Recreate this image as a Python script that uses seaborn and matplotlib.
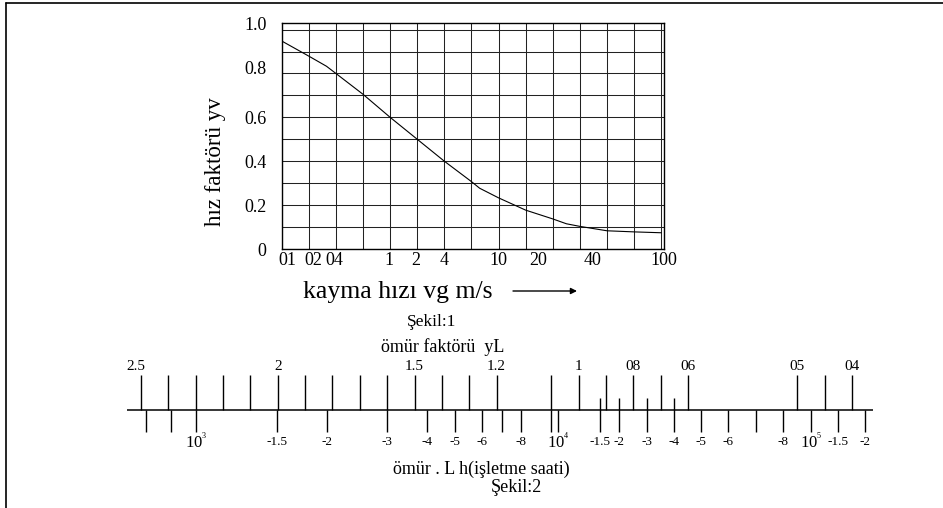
import numpy as np
import matplotlib
matplotlib.use("Agg")
import matplotlib.pyplot as plt
from matplotlib.lines import Line2D
import seaborn as sns

# Sekil 1 - speed factor curve (x = grid column of the drawing)
speed_pos = [0, 1, 1.65, 2, 3, 4, 5, 6, 7, 7.3, 8, 9, 10, 10.5, 11, 12, 13, 14]
speed_factor = [0.948, 0.879, 0.833, 0.80, 0.705, 0.60, 0.50, 0.40, 0.307, 0.277,
                0.233, 0.177, 0.137, 0.115, 0.103, 0.083, 0.078, 0.074]
speed_tick_pos = [0.2, 1.15, 1.95, 3.95, 4.95, 6.0, 8.0, 9.45, 11.45, 14.1]
speed_tick_labels = ["01", "02", "04", "1", "2", "4", "10", "20", "40", "100"]
factor_tick_pos = [0, 0.2, 0.4, 0.6, 0.825, 1.03]
factor_tick_labels = ["0", "0.2", "0.4", "0.6", "0.8", "1.0"]

# Sekil 2 - nomogram, positions in scale divisions
life_factor_pos = [0, 1, 2, 3, 4, 5, 6, 7, 8, 9, 10, 11, 12, 13,
                   15, 16, 17, 18, 19, 20, 24, 25, 26]
life_factor_label_pos = [-0.2, 5, 10, 13, 16, 18, 20, 24, 26]
life_factor_labels = ["2.5", "2", "1.5", "1.2", "1", "08", "06", "05", "04"]

hours_pos = [0.18, 1.09, 2.01, 4.96, 6.79, 8.98, 10.47, 11.48, 12.48, 13.19, 13.88,
             15.0, 15.26, 16.78, 17.48, 18.49, 19.49, 20.48, 21.47, 22.47, 23.48,
             24.49, 25.47, 26.47]
hours_labels = ["", "", r"$\mathregular{10^{^3}}$", "-1.5", "-2", "-3", "-4", "-5", "-6", "", "-8",
                "", r"$\mathregular{10^{^4}}$", "-1.5", "-2", "-3", "-4", "-5", "-6", "", "-8",
                r"$\mathregular{10^{^5}}$", "-1.5", "-2"]
hours_raised = [16.78, 17.48, 18.49, 19.49]

sns.set_theme(style="white")
plt.rcParams["font.family"] = ["Liberation Serif", "DejaVu Serif"]
plt.rcParams["mathtext.fontset"] = "custom"
plt.rcParams["mathtext.rm"] = "Liberation Serif"

W, H = 943, 508
fig = plt.figure(figsize=(W / 100, H / 100), dpi=100)
fig.patch.set_facecolor("white")

def fx(px):
    return px / W

def fy(py):
    return 1 - py / H

# ---- Sekil 1 ----
ax = fig.add_axes([fx(281.7), fy(249), fx(664) - fx(281.7), fy(23) - fy(249)])
sns.lineplot(x=speed_pos, y=speed_factor, ax=ax, color="black", lw=0.8, sort=False)
ax.set_xlim(0, 14)
ax.set_ylim(0, 1)
ax.xaxis.remove_overlapping_locs = False
ax.yaxis.remove_overlapping_locs = False
ax.set_xticks(np.arange(0, 15))
ax.set_xticklabels([])
ax.set_yticks(np.round(np.arange(0, 1.01, 0.1), 1))
ax.set_yticklabels([])
ax.set_xticks(speed_tick_pos, speed_tick_labels, minor=True)
ax.set_yticks(factor_tick_pos, factor_tick_labels, minor=True)
ax.grid(True, which="major", color="#222222", lw=0.75)
ax.grid(False, which="minor")
ax.tick_params(which="both", length=0)
ax.tick_params(axis="x", which="minor", pad=2, labelsize=13, colors="black")
ax.tick_params(axis="y", which="minor", pad=11, labelsize=13, colors="black")
for s in ax.spines.values():
    s.set_color("black")
    s.set_linewidth(1)
ax.set_xlabel("")
ax.set_ylabel("")

fig.text(fx(215), fy(162), "hız faktörü yv", rotation=90, ha="center", va="center",
         fontsize=16.5, color="black")
fig.text(fx(398), fy(292), "kayma hızı vg m/s", ha="center", va="center",
         fontsize=18.5, color="black")
ax.annotate("", xy=(fx(577), fy(291)), xytext=(fx(513), fy(291)),
            xycoords="figure fraction", textcoords="figure fraction",
            arrowprops=dict(arrowstyle="-|>", color="black", lw=1, mutation_scale=9,
                            shrinkA=0, shrinkB=0))
fig.text(fx(432), fy(322), "Şekil:1", ha="center", va="center", fontsize=12.5, color="black")
fig.text(fx(443), fy(347), "ömür faktörü  yL", ha="center", va="center", fontsize=13,
         color="black")

# ---- Sekil 2 ----
unit = 27.35
ax2 = fig.add_axes([0, fy(455), 1, fy(355) - fy(455)])
ax2.set_xlim(-141 / unit, (W - 141) / unit)
ax2.set_ylim(-(455 - 409.5) / 34.5, (409.5 - 355) / 34.5)
ax2.axis("off")
ax2.patch.set_alpha(0)

ax2.hlines(0, -0.5, 26.76, color="black", lw=1.1)
ax2.vlines(life_factor_pos, 0, 1, color="black", lw=1)
bottom_top = [0.333 if p in hours_raised else 0 for p in hours_pos]
ax2.vlines(hours_pos, -0.652, bottom_top, color="black", lw=1)

for p, lab in zip(life_factor_label_pos, life_factor_labels):
    ax2.text(p, 1.24, lab, ha="center", va="center", fontsize=11, color="black")
for p, lab in zip(hours_pos, hours_labels):
    if lab:
        big = lab.startswith("$")
        ax2.text(p, -0.95, lab, ha="center", va="center",
                 fontsize=12 if big else 9.5, color="black")

fig.text(fx(481), fy(469), "ömür . L h(işletme saati)", ha="center", va="center",
         fontsize=13, color="black")
fig.text(fx(516), fy(487), "Şekil:2", ha="center", va="center", fontsize=13,
         color="black")

# page frame
fig.add_artist(Line2D([fx(6), 1], [fy(2.5), fy(2.5)], transform=fig.transFigure,
                      color="black", lw=1.2))
fig.add_artist(Line2D([fx(6), fx(6)], [0, fy(2.5)], transform=fig.transFigure,
                      color="black", lw=1.2))

fig.savefig("out.png", dpi=100)
